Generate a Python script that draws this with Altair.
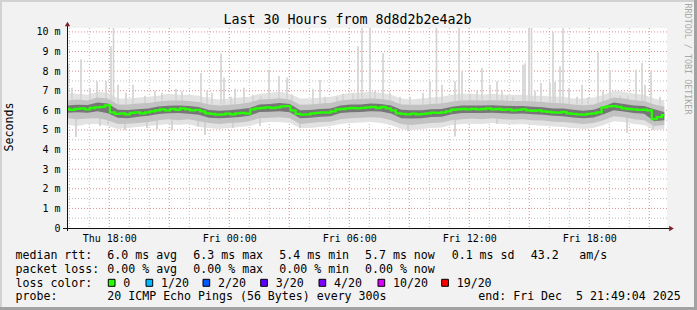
import altair as alt
import pandas as pd
import numpy as np

# ---------------- data ----------------
# time axis: hours since Thu 00:00 (plot spans Thu 15:53 .. Fri 21:53)
x_start, x_end = 15.885, 45.885

# median rtt (ms), every ~15 min
median_ms = [6.07, 6.02, 6.08, 6.10, 6.05, 6.12, 6.15, 6.18, 6.25, 5.90,
             5.82, 5.85, 5.80, 5.87, 5.90, 5.85, 5.90, 5.95, 6.00, 6.05,
             6.00, 6.08, 6.03, 6.10, 6.05, 6.00, 6.02, 5.95, 5.85, 5.82,
             5.78, 5.80, 5.83, 5.80, 5.85, 5.87, 5.83, 6.05, 6.10, 6.12,
             6.15, 6.12, 6.15, 6.20, 6.22, 6.00, 5.82, 5.78, 5.80, 5.85,
             5.87, 5.90, 5.88, 5.95, 6.05, 6.07, 6.10, 6.12, 6.10, 6.13,
             6.15, 6.18, 6.12, 6.17, 6.10, 6.00, 5.85, 5.82, 5.80, 5.83,
             5.80, 5.82, 5.85, 5.88, 5.87, 5.90, 5.95, 6.03, 6.05, 6.07,
             6.05, 6.08, 6.05, 6.07, 6.10, 6.05, 6.07, 6.03, 6.05, 6.00,
             6.02, 6.05, 6.00, 5.98, 6.00, 5.95, 5.92, 5.90, 5.88, 5.92,
             5.85, 5.82, 5.80, 5.78, 5.82, 5.85, 5.90, 6.15, 6.20, 6.22,
             6.18, 6.10, 6.07, 6.05, 6.02, 6.03, 6.00, 5.55, 5.65, 5.75]

# smoke bands (ms), every ~30 min
core_lo = [5.88, 5.90, 5.88, 5.95, 5.85, 5.62, 5.60, 5.68, 5.72, 5.82,
           5.85, 5.86, 5.83, 5.78, 5.62, 5.60, 5.62, 5.66, 5.72, 5.92,
           5.93, 5.96, 5.90, 5.60, 5.62, 5.68, 5.70, 5.86, 5.90, 5.92,
           5.95, 5.94, 5.84, 5.60, 5.58, 5.60, 5.66, 5.68, 5.80, 5.86,
           5.86, 5.87, 5.88, 5.85, 5.83, 5.84, 5.80, 5.78, 5.72, 5.70,
           5.63, 5.60, 5.64, 5.80, 6.00, 5.94, 5.86, 5.83, 5.45, 5.50]
core_hi = [6.25, 6.28, 6.27, 6.40, 6.35, 6.03, 6.02, 6.06, 6.10, 6.20,
           6.23, 6.25, 6.22, 6.17, 6.02, 5.98, 6.00, 6.05, 6.12, 6.30,
           6.33, 6.38, 6.32, 6.00, 6.02, 6.07, 6.10, 6.25, 6.30, 6.30,
           6.35, 6.33, 6.25, 6.03, 6.00, 6.00, 6.05, 6.07, 6.18, 6.25,
           6.25, 6.25, 6.26, 6.24, 6.22, 6.22, 6.18, 6.16, 6.10, 6.10,
           6.03, 5.98, 6.03, 6.20, 6.40, 6.33, 6.25, 6.22, 6.05, 5.92]
mid_lo = [5.60, 5.55, 5.58, 5.60, 5.50, 5.30, 5.32, 5.35, 5.40, 5.50,
          5.55, 5.50, 5.55, 5.45, 5.35, 5.30, 5.35, 5.38, 5.45, 5.60,
          5.62, 5.65, 5.60, 5.30, 5.35, 5.40, 5.42, 5.55, 5.60, 5.62,
          5.65, 5.62, 5.50, 5.30, 5.25, 5.30, 5.35, 5.38, 5.50, 5.55,
          5.58, 5.55, 5.60, 5.55, 5.52, 5.55, 5.50, 5.48, 5.42, 5.40,
          5.35, 5.30, 5.35, 5.50, 5.70, 5.65, 5.55, 5.50, 5.20, 5.25]
mid_hi = [6.50, 6.55, 6.50, 6.65, 6.60, 6.30, 6.30, 6.35, 6.38, 6.45,
          6.50, 6.50, 6.48, 6.42, 6.30, 6.25, 6.28, 6.32, 6.40, 6.55,
          6.58, 6.62, 6.55, 6.28, 6.30, 6.35, 6.38, 6.50, 6.55, 6.58,
          6.60, 6.58, 6.50, 6.30, 6.28, 6.28, 6.32, 6.35, 6.45, 6.50,
          6.52, 6.50, 6.52, 6.50, 6.48, 6.48, 6.45, 6.42, 6.38, 6.36,
          6.30, 6.26, 6.30, 6.48, 6.65, 6.60, 6.52, 6.48, 6.30, 6.20]
outer_lo = [5.25, 5.20, 5.30, 5.30, 5.20, 5.05, 5.10, 5.15, 5.20, 5.25,
            5.30, 5.25, 5.30, 5.15, 5.10, 5.05, 5.10, 5.15, 5.20, 5.35,
            5.40, 5.40, 5.35, 5.10, 5.10, 5.15, 5.20, 5.30, 5.35, 5.38,
            5.40, 5.35, 5.25, 5.05, 5.00, 5.05, 5.10, 5.12, 5.25, 5.30,
            5.32, 5.30, 5.35, 5.30, 5.28, 5.30, 5.25, 5.22, 5.18, 5.15,
            5.10, 5.05, 5.10, 5.25, 5.45, 5.40, 5.30, 5.25, 5.00, 5.05]
outer_hi = [6.90, 6.85, 6.80, 6.95, 6.90, 6.60, 6.60, 6.65, 6.70, 6.75,
            6.85, 6.80, 6.80, 6.75, 6.60, 6.55, 6.60, 6.65, 6.70, 6.85,
            6.90, 6.95, 6.85, 6.60, 6.60, 6.65, 6.70, 6.80, 6.90, 6.90,
            6.95, 6.90, 6.80, 6.60, 6.55, 6.60, 6.65, 6.70, 6.80, 6.85,
            6.85, 6.80, 6.85, 6.80, 6.80, 6.80, 6.75, 6.75, 6.70, 6.70,
            6.60, 6.60, 6.65, 6.80, 7.00, 6.95, 6.85, 6.80, 6.60, 6.50]

# single high pings (hour, top ms)
spike_hours = [15.935, 16.135, 16.585, 17.035, 17.385, 17.835, 18.085, 18.21, 18.435, 18.835,
               19.185, 19.785, 20.285, 20.635, 21.335, 21.635, 22.585, 22.885, 23.135, 23.585,
               23.735, 24.085, 24.285, 24.735, 25.185, 25.585, 25.985, 26.485, 26.885, 27.135,
               28.185, 28.535, 28.785, 29.385, 29.685, 30.185, 30.435, 30.635, 31.035, 31.285,
               31.685, 32.035, 32.535, 33.035, 33.685, 34.035, 34.36, 34.635, 35.285, 35.485,
               35.635, 36.035, 36.385, 36.635, 37.035, 37.385, 37.635, 37.885, 38.185, 38.685,
               38.785, 38.985, 39.11, 39.285, 39.585, 40.035, 40.185, 40.285, 40.535, 40.685,
               40.985, 41.385, 41.635, 41.935, 42.435, 42.685, 43.035, 43.535, 43.935, 44.335,
               44.635, 44.785, 45.085, 45.535]
spike_top_ms = [8.4, 7.15, 8.6, 7.15, 7.48, 7.5, 9.27, 10.2, 7.3, 6.9,
                7.3, 6.75, 7.0, 6.9, 7.1, 6.97, 7.9, 7.0, 6.9, 8.9,
                7.67, 6.7, 7.1, 7.15, 6.8, 6.75, 8.07, 7.75, 7.67, 6.8,
                7.1, 7.55, 6.7, 6.7, 6.85, 6.85, 9.27, 10.2, 10.2, 7.0,
                8.93, 6.9, 6.7, 6.7, 6.9, 7.48, 10.2, 7.3, 7.48, 10.2,
                8.0, 6.85, 7.0, 8.16, 7.3, 7.48, 7.0, 6.75, 6.7, 8.33,
                8.4, 10.2, 10.2, 6.97, 7.4, 7.4, 10.0, 7.45, 8.25, 10.2,
                7.14, 6.7, 7.3, 6.65, 8.96, 7.0, 8.07, 6.75, 6.75, 8.07,
                8.42, 7.3, 8.0, 6.7]
# single low pings (hour, bottom ms)
dip_hours = [16.335, 17.535, 17.935, 18.785, 19.885, 20.385, 21.135, 22.435, 22.785,
             24.185, 25.535, 27.535, 32.935, 35.285, 37.385, 43.885, 45.185]
dip_bottom_ms = [4.64, 5.2, 5.3, 5.0, 5.1, 5.05, 5.0, 5.2, 4.76,
                 5.1, 5.2, 5.1, 4.93, 4.67, 5.3, 4.86, 5.0]

loss_labels = ["0", "1/20", "2/20", "3/20", "4/20", "10/20", "19/20"]
loss_colors = ["#26ff00", "#00b8ff", "#0059ff", "#5e00ff", "#7e00ff", "#dd00ff", "#ff0000"]

# ---------------- tables ----------------
med_df = pd.DataFrame({"t": np.linspace(15.9, 45.75, len(median_ms)), "v": median_ms})
band_t = np.linspace(15.9, 45.75, len(core_lo))
band_df = pd.DataFrame({"t": band_t, "clo": core_lo, "chi": core_hi,
                        "mlo": mid_lo, "mhi": mid_hi, "olo": outer_lo, "ohi": outer_hi})
spike_df = pd.DataFrame({"t": spike_hours, "v": [6.3] * len(spike_hours), "v2": spike_top_ms})
dip_df = pd.DataFrame({"t": dip_hours, "v": [5.7] * len(dip_hours), "v2": dip_bottom_ms})

minor_v = pd.DataFrame({"t": [h for h in range(16, 46) if h % 3 != 0]})
major_v = pd.DataFrame({"t": [h for h in range(18, 46, 3)]})
minor_h = pd.DataFrame({"v": [i + 0.5 for i in range(10)]})
major_h = pd.DataFrame({"v": list(range(1, 11))})

MONO = "DejaVu Sans Mono"
OX, OY = 67, 28
W, H = 600, 200

xs = alt.Scale(domain=[x_start, x_end], nice=False, zero=False)
ys = alt.Scale(domain=[0, 10.2], nice=False, zero=False)
x_axis = alt.Axis(values=[18, 24, 30, 36, 42], title=None, grid=False, domain=False, ticks=False,
                  tickSize=0, labelPadding=5, labelFont=MONO, labelFontSize=10, labelColor="#000000",
                  labelExpr="(datum.value < 24 ? 'Thu ' : 'Fri ') + (datum.value % 24 < 10 ? '0' : '') + (datum.value % 24) + ':00'")
y_axis = alt.Axis(values=list(range(0, 11)), title=None, grid=False, domain=False, ticks=False,
                  tickSize=0, labelPadding=7, labelFont=MONO, labelFontSize=10, labelColor="#000000",
                  labelExpr="datum.value == 0 ? '0' : datum.value + ' m'")


def X(f="t"):
    return alt.X(f"{f}:Q", scale=xs, axis=x_axis)


def Y(f="v"):
    return alt.Y(f"{f}:Q", scale=ys, axis=y_axis)


one = pd.DataFrame({"d": [0]})


def txt(s, x, y, size=11.6, align="left", baseline="alphabetic", angle=None, color="#000000"):
    kw = dict(text=s, align=align, baseline=baseline, font=MONO, fontSize=size, color=color)
    if angle is not None:
        kw["angle"] = angle
    return alt.Chart(one).mark_text(**kw).encode(x=alt.value(x - OX), y=alt.value(y - OY))


def box(x1, y1, x2, y2, fill, stroke=None):
    kw = dict(color=fill)
    if stroke:
        kw.update(stroke=stroke, strokeWidth=1)
    return alt.Chart(one).mark_rect(**kw).encode(
        x=alt.value(x1 - OX), x2=alt.value(x2 - OX), y=alt.value(y1 - OY), y2=alt.value(y2 - OY))


layers = []
# frame shading
layers += [box(0, 0, 697, 2, "#D2D2D2"), box(0, 0, 2, 310, "#D2D2D2"),
           box(694, 0, 697, 310, "#A2A2A2"), box(0, 307, 697, 310, "#A2A2A2")]

# grid
layers.append(alt.Chart(minor_v).mark_rule(color="#BDBDBD", strokeDash=[1, 2], strokeWidth=1).encode(x=X()))
layers.append(alt.Chart(minor_h).mark_rule(color="#BDBDBD", strokeDash=[1, 2], strokeWidth=1).encode(y=Y()))
layers.append(alt.Chart(major_v).mark_rule(color="#DE8E8E", strokeDash=[1, 2], strokeWidth=1).encode(x=X()))
layers.append(alt.Chart(major_h).mark_rule(color="#DE8E8E", strokeDash=[1, 2], strokeWidth=1).encode(y=Y()))

# smoke
layers.append(alt.Chart(band_df).mark_area(color="#E2E2E2").encode(x=X(), y=Y("olo"), y2="ohi:Q"))
layers.append(alt.Chart(spike_df).mark_rule(color="#D4D4D4", strokeWidth=1.7, clip=True).encode(x=X(), y=Y(), y2="v2:Q"))
layers.append(alt.Chart(dip_df).mark_rule(color="#CFCFCF", strokeWidth=1.7).encode(x=X(), y=Y(), y2="v2:Q"))
layers.append(alt.Chart(band_df).mark_area(color="#C2C2C2").encode(x=X(), y=Y("mlo"), y2="mhi:Q"))
layers.append(alt.Chart(band_df).mark_area(color="#767676").encode(x=X(), y=Y("clo"), y2="chi:Q"))

# median
layers.append(alt.Chart(med_df).mark_line(color="#26ff00", strokeWidth=2.3, interpolate="step").encode(x=X(), y=Y()))

# axes lines + arrows
layers.append(alt.Chart(one).mark_rule(color="#111111", strokeWidth=1).encode(
    x=alt.value(0.5), y=alt.value(-2), y2=alt.value(203)))
layers.append(alt.Chart(one).mark_rule(color="#111111", strokeWidth=1).encode(
    x=alt.value(-4), x2=alt.value(603), y=alt.value(200.5)))
layers.append(alt.Chart(one).mark_point(shape="triangle-up", filled=True, size=28, color="#7F1F1F", opacity=1).encode(
    x=alt.value(0.5), y=alt.value(-4)))
layers.append(alt.Chart(one).mark_point(shape="triangle-right", filled=True, size=28, color="#7F1F1F", opacity=1).encode(
    x=alt.value(604.5), y=alt.value(200.5)))

# texts
NB = "\u00a0"
layers.append(txt("Last 30 Hours from 8d8d2b2e4a2b", 347.5, 24, size=13.3, align="center"))
layers.append(txt("Seconds", 10, 127, size=11.6, align="center", baseline="middle", angle=270))
layers.append(txt("RRDTOOL / TOBI OETIKER", 688, 59, size=8.4, align="center", baseline="middle",
                  angle=90, color="#A8A8A8"))

r1, r2, r3, r4 = 259.2, 272.8, 286.6, 300.2
row1 = [("median rtt:", 15.5), ("6.0 ms avg", 107.3), ("6.3 ms max", 193.3), ("5.4 ms min", 279.3),
        ("5.7 ms now", 365), ("0.1 ms sd", 451.7), ("43.2", 530.7), ("am/s", 579.3)]
row2 = [("packet loss:", 15.5), ("0.00 % avg", 107.3), ("0.00 % max", 193.3), ("0.00 % min", 279.3),
        ("0.00 % now", 365)]
for s, x in row1:
    layers.append(txt(s, x, r1))
for s, x in row2:
    layers.append(txt(s, x, r2))
layers.append(txt("loss color:", 15.5, r3))
sq_x = [108.3, 146, 203, 260.7, 319, 378, 441.7]
for lab, col, x in zip(loss_labels, loss_colors, sq_x):
    layers.append(box(x, 279.3, x + 6.7, 286.3, col, stroke="#000000"))
    layers.append(txt(lab, x + 15, r3))
layers.append(txt("probe:", 15.5, r4))
layers.append(txt("20 ICMP Echo Pings (56 Bytes) every 300s", 107.3, r4))
layers.append(txt("end: Fri Dec" + NB + NB + "5 21:49:04 2025", 478.3, r4))

chart = alt.layer(*layers).properties(
    width=W, height=H,
    padding={"left": OX, "top": OY, "right": 697 - OX - W, "bottom": 310 - OY - H},
    autosize=alt.AutoSizeParams(type="none"),
).configure(background="#F2F2F2").configure_view(fill="#FFFFFF", strokeWidth=0)

chart.save("out.html", embed_options={"renderer": "svg", "actions": False})
